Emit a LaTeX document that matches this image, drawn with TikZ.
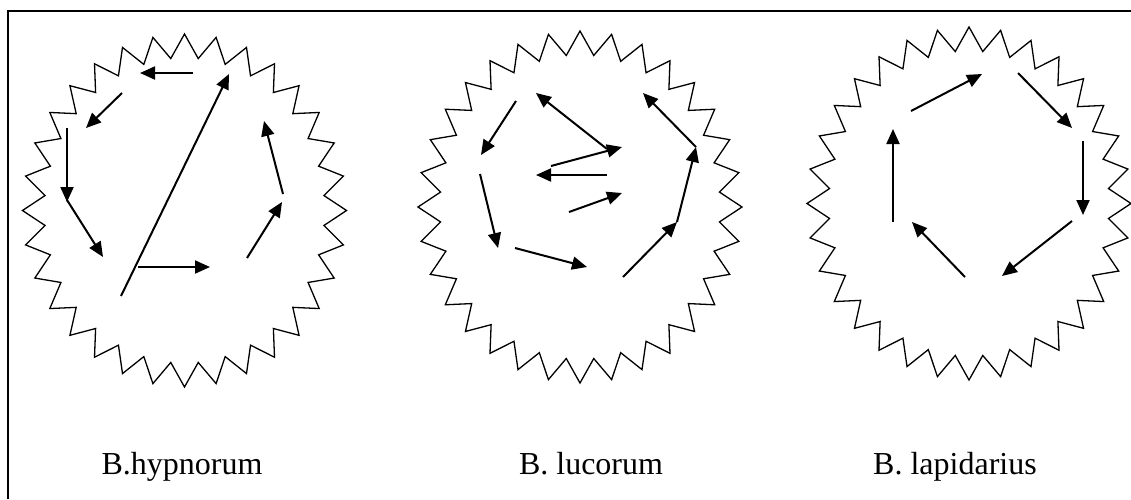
\documentclass[tikz,border=0pt]{standalone}
\usepackage{fontspec}
\setmainfont{Liberation Serif}
\usetikzlibrary{arrows.meta}
\tikzset{
  frameline/.style={line width=2pt, black},
  starline/.style={line width=1.3pt, black, line join=miter},
  flow/.style={line width=2pt, black, -{Triangle[length=15pt,width=13pt]}},
  label/.style={anchor=base, font=\fontsize{32}{38}\selectfont, inner sep=0pt}
}
\newcommand{\zigstar}[5]{% cx cy rx ry ratio
  \draw[starline] plot[samples at={0,...,63}]
    ({#1+#3*(1-(1-#5)*mod(\x,2))*sin(\x*5.625)},
     {#2-#4*(1-(1-#5)*mod(\x,2))*cos(\x*5.625)}) -- cycle;}
\begin{document}
\begin{tikzpicture}[x=1pt,y=-1pt]
\useasboundingbox (0,0) rectangle (1131,499);
% frame (left and top edges)
\coordinate (fb) at (8,499);
\coordinate (fc) at (8,11);
\coordinate (fr) at (1131,11);
\draw[frameline] (fb) -- (fc) -- (fr);

% stars
\zigstar{184.5}{210.5}{162}{176.5}{0.865}
\zigstar{580}{207}{162}{176}{0.865}
\zigstar{969}{203.5}{162}{176.5}{0.865}

% B.hypnorum arrows
\coordinate (h1s) at (193,73);  \coordinate (h1e) at (140,73);
\coordinate (h2s) at (122,93);  \coordinate (h2e) at (86,128);
\coordinate (h3s) at (67,128);  \coordinate (h3e) at (67,202);
\coordinate (h4s) at (67,200);  \coordinate (h4e) at (103,257);
\coordinate (h5s) at (121,296); \coordinate (h5e) at (229,74);
\coordinate (h6s) at (138,267); \coordinate (h6e) at (210,267);
\coordinate (h7s) at (247,258); \coordinate (h7e) at (282,202);
\coordinate (h8s) at (283,194); \coordinate (h8e) at (264,121);
\foreach \i in {1,...,8} \draw[flow] (h\i s) -- (h\i e);

% B. lucorum arrows
\coordinate (l1s) at (516,101); \coordinate (l1e) at (481,155);
\coordinate (l2s) at (607,149); \coordinate (l2e) at (536,93);
\coordinate (l3s) at (551,166); \coordinate (l3e) at (622,147);
\coordinate (l4s) at (607,175); \coordinate (l4e) at (536,175);
\coordinate (l5s) at (569,212); \coordinate (l5e) at (622,193);
\coordinate (l6s) at (480,174); \coordinate (l6e) at (498,248);
\coordinate (l7s) at (515,248); \coordinate (l7e) at (587,267);
\coordinate (l8s) at (623,277); \coordinate (l8e) at (677,222);
\coordinate (l9s) at (677,222); \coordinate (l9e) at (696,147);
\coordinate (l10s) at (696,147); \coordinate (l10e) at (643,93);
\foreach \i in {1,...,10} \draw[flow] (l\i s) -- (l\i e);

% B. lapidarius arrows
\coordinate (p1s) at (911,111);  \coordinate (p1e) at (982,74);
\coordinate (p2s) at (1018,73);  \coordinate (p2e) at (1072,128);
\coordinate (p3s) at (1083,141); \coordinate (p3e) at (1083,215);
\coordinate (p4s) at (1072,221); \coordinate (p4e) at (1002,276);
\coordinate (p5s) at (965,277);  \coordinate (p5e) at (912,222);
\coordinate (p6s) at (893,222);  \coordinate (p6e) at (893,129);
\foreach \i in {1,...,6} \draw[flow] (p\i s) -- (p\i e);

% labels
\node[label] (t1) at (182,474) {B.hypnorum};
\node[label] (t2) at (591,474) {B. lucorum};
\node[label] (t3) at (955,474) {B. lapidarius};
\end{tikzpicture}
\end{document}
